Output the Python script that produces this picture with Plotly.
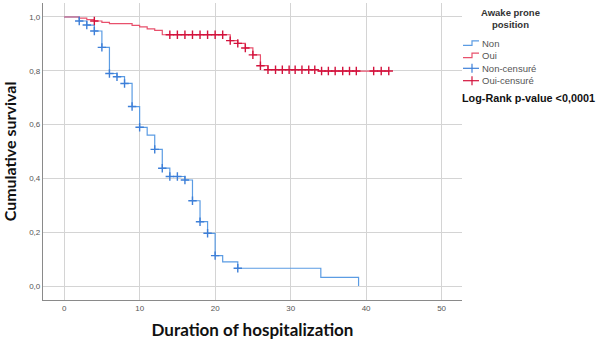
import numpy as np
import plotly.graph_objects as go

# ---- data ----
non_times = [0, 2, 3, 4, 5, 6, 7, 8, 9, 10, 11, 12, 13, 14, 16, 17, 18, 19, 20, 21, 23, 34, 39]
non_surv = [1.0, 0.985, 0.970, 0.948, 0.887, 0.790, 0.778, 0.753, 0.667, 0.590, 0.561, 0.508,
            0.438, 0.407, 0.394, 0.317, 0.239, 0.196, 0.113, 0.090, 0.066, 0.032, 0.0]
non_censored = [2, 3, 4, 5, 6, 7, 8, 9, 10, 12, 13, 14, 15, 16, 17, 18, 19, 20, 23]

oui_times = [0, 2, 3, 4, 5, 6, 9, 10, 11, 12, 13, 22, 23, 24, 25, 26, 27, 33.7, 43]
oui_surv = [1.0, 0.996, 0.990, 0.985, 0.980, 0.975, 0.969, 0.963, 0.956, 0.950, 0.934,
            0.912, 0.902, 0.885, 0.859, 0.819, 0.804, 0.799, 0.799]
oui_censored = [4, 14, 15, 16, 17, 18, 19, 20, 21, 22, 23, 24, 25, 26, 27, 28, 28.9, 29.8,
                30.6, 31.5, 32.4, 33.2, 34.1, 35, 35.9, 36.9, 37.8, 38.7, 41, 42, 43]

x_ticks = [0, 10, 20, 30, 40, 50]
y_ticks = [0.0, 0.2, 0.4, 0.6, 0.8, 1.0]

legend_title = "Awake prone<br>position"
legend_labels = ["Non", "Oui", "Non-censuré", "Oui-censuré"]
stat_text = "Log-Rank p-value <0,0001"
x_title = "Duration of hospitalization"
y_title = "Cumulative survival"

# ---- styles ----
BLUE_L = "#5b9ce3"
BLUE_M = "#3d7fd8"
RED_L = "#e8506c"
RED_M = "#d3123c"

W, H = 597, 344
L, R, T, B = 43, 135, 3, 44
PW, PH = W - L - R, H - T - B


def surv_at(times, surv, c):
    i = np.searchsorted(np.array(times), c, side="right") - 1
    return surv[i]


fig = go.Figure()
fig.add_trace(go.Scatter(x=non_times, y=non_surv, mode="lines", line=dict(color=BLUE_L, width=1.2, shape="hv"),
                         name="Non", showlegend=False))
fig.add_trace(go.Scatter(x=oui_times, y=oui_surv, mode="lines", line=dict(color=RED_L, width=1.2, shape="hv"),
                         name="Oui", showlegend=False))
fig.add_trace(go.Scatter(x=non_censored, y=[surv_at(non_times, non_surv, c) for c in non_censored],
                         mode="markers", marker=dict(symbol="cross-thin", size=6, line=dict(color=BLUE_M, width=1.4)),
                         name="Non-censuré", showlegend=False))
fig.add_trace(go.Scatter(x=oui_censored, y=[surv_at(oui_times, oui_surv, c) for c in oui_censored],
                         mode="markers", marker=dict(symbol="cross-thin", size=6, line=dict(color=RED_M, width=1.4)),
                         name="Oui-censuré", showlegend=False))


def px(x):
    return (x - L) / PW


def py(y):
    return (H - B - y) / PH


shapes = []
annotations = []
# legend title
annotations.append(dict(x=px(510), y=py(18), xref="paper", yref="paper", text="<b>" + legend_title + "</b>",
                        showarrow=False, xanchor="center", yanchor="middle",
                        font=dict(family="Liberation Sans, Arial", size=9.5, color="#333")))
row_y = [43.3, 55.7, 68.3, 80.7]
colors_l = [BLUE_L, RED_L, BLUE_M, RED_M]
for i, lab in enumerate(legend_labels):
    yy = row_y[i]
    if i < 2:
        path = f"M {px(463)},{py(yy+2)} L {px(472)},{py(yy+2)} L {px(472)},{py(yy-2.5)} L {px(479)},{py(yy-2.5)}"
        shapes.append(dict(type="path", path=path, xref="paper", yref="paper",
                           line=dict(color=colors_l[i], width=1.2)))
    else:
        shapes.append(dict(type="line", x0=px(463), x1=px(479), y0=py(yy), y1=py(yy), xref="paper", yref="paper",
                           line=dict(color=colors_l[i], width=1.2)))
        shapes.append(dict(type="line", x0=px(472), x1=px(472), y0=py(yy - 4.5), y1=py(yy + 4.5),
                           xref="paper", yref="paper", line=dict(color=colors_l[i], width=1.2)))
    annotations.append(dict(x=px(480), y=py(yy), xref="paper", yref="paper", text=lab, showarrow=False,
                            xanchor="left", yanchor="middle",
                            font=dict(family="Liberation Sans, Arial", size=9.5, color="#555")))
annotations.append(dict(x=px(460), y=py(97.7), xref="paper", yref="paper", text="<b>" + stat_text + "</b>",
                        showarrow=False, xanchor="left", yanchor="middle",
                        font=dict(family="Liberation Sans, Arial", size=10.8, color="#111")))

fig.update_layout(
    width=W, height=H,
    margin=dict(l=L, r=R, t=T, b=B, pad=0, autoexpand=False),
    paper_bgcolor="white", plot_bgcolor="white",
    separators=",.",
    showlegend=False,
    shapes=shapes, annotations=annotations,
)
fig.update_xaxes(range=[-2.8, 52.7], tickvals=x_ticks, showgrid=True, gridcolor="#d4d4d4", gridwidth=1.2,
                 zeroline=False, showline=True, linecolor="#8a8a8a", linewidth=1.2, ticks="", automargin=False,
                 tickfont=dict(family="Liberation Sans, Arial", size=8, color="#555"),
                 title=dict(text="<b>" + x_title + "</b>", standoff=12,
                            font=dict(family="Lato", size=17, color="#111")))
fig.update_yaxes(range=[-0.052, 1.052], tickvals=y_ticks, tickformat=".1f", showgrid=True, gridcolor="#d4d4d4",
                 gridwidth=1.2, zeroline=False, showline=True, linecolor="#8a8a8a", linewidth=1.2, ticks="",
                 automargin=False,
                 tickfont=dict(family="Liberation Sans, Arial", size=8, color="#555"),
                 title=dict(text="<b>" + y_title + "</b>", standoff=10,
                            font=dict(family="Lato", size=16, color="#111")))

fig.write_html("out.html", config={"displayModeBar": False},
               post_script="document.body.style.margin='0';document.body.style.padding='0';"
                           "document.documentElement.style.overflow='hidden';")
